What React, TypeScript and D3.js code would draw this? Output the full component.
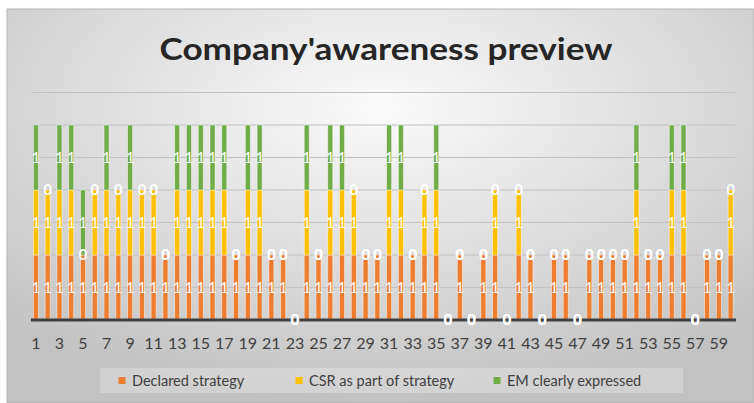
import React from "react";
import * as d3 from "d3";

const categories: string[] = Array.from({ length: 60 }, (_, i) => String(i + 1));
const declared: number[] = [1,1,1,1,1,1,1,1,1,1, 1,1,1,1,1,1,1,1,1,1, 1,1,0,1,1,1,1,1,1,1, 1,1,1,1,1,0,1,0,1,1, 0,1,1,0,1,1,0,1,1,1, 1,1,1,1,1,1,0,1,1,1];
const csr: number[] =      [1,1,1,1,0,1,1,1,1,1, 1,0,1,1,1,1,1,0,1,1, 0,0,0,1,0,1,1,1,0,0, 1,1,0,1,1,0,0,0,0,1, 0,1,0,0,0,0,0,0,0,0, 0,1,0,0,1,1,0,0,0,1];
const em: number[] =       [1,0,1,1,1,0,1,0,1,0, 0,0,1,1,1,1,1,0,1,1, 0,0,0,1,0,1,1,0,0,0, 1,1,0,0,1,0,0,0,0,0, 0,0,0,0,0,0,0,0,0,0, 0,1,0,0,1,1,0,0,0,0];
const seriesNames: string[] = ["Declared strategy", "CSR as part of strategy", "EM clearly expressed"];
const seriesColors: string[] = ["#ED7D31", "#FFC000", "#70AD47"];
const gridTicks: number[] = [0.5, 1, 1.5, 2, 2.5, 3, 3.5];
const title = "Company'awareness preview";

export default function App() {
  const W = 754, H = 403;
  const x = d3.scaleBand<string>().domain(categories).range([30, 736.5]).padding(0);
  const y = d3.scaleLinear().domain([0, 3.5]).range([320, 92.5]);
  const rows = categories.map((c, i) => ({ cat: c, s0: declared[i], s1: csr[i], s2: em[i] }));
  const stack = d3.stack<any>().keys(["s0", "s1", "s2"])(rows);
  const barW = 5;
  const font = "Lato, 'Open Sans', sans-serif";

  const legendItems = [
    { sq: 122, tx: 132 },
    { sq: 299, tx: 309 },
    { sq: 497, tx: 507 },
  ];

  return (
    <svg width={W} height={H} style={{ position: "absolute", left: 0, top: 0 }} fontFamily={font}>
      <defs>
        <radialGradient id="bg" cx="50%" cy="25%" r="75%">
          <stop offset="0" stopColor="#fbfbfb" />
          <stop offset="1" stopColor="#c2c2c2" />
        </radialGradient>
      </defs>
      <rect x={0} y={0} width={W} height={H} fill="#ffffff" />
      <rect x={7} y={9} width={W - 7} height={H - 9} fill="url(#bg)" stroke="#b5b5b5" strokeWidth={1} />
      <text x={386} y={60} textAnchor="middle" fontSize={31} fontWeight="bold" fill="#262626"
        textLength={453} lengthAdjust="spacingAndGlyphs">{title}</text>
      {gridTicks.map((t) => (
        <line key={t} x1={31} x2={735} y1={y(t)} y2={y(t)} stroke="#c2c2c2" strokeWidth={1} />
      ))}
      {stack.map((s, si) =>
        s.map((d, i) => {
          const v = d[1] - d[0];
          if (v <= 0) return null;
          const cx = (x(categories[i]) as number) + x.bandwidth() / 2;
          return (
            <rect key={`b${si}-${i}`} x={cx - barW / 2} y={y(d[1])} width={barW} height={y(d[0]) - y(d[1])}
              fill={seriesColors[si]} stroke="rgba(255,255,255,0.55)" strokeWidth={0.8} />
          );
        })
      )}
      <line x1={31} x2={736} y1={y(0)} y2={y(0)} stroke="#404040" strokeWidth={3} />
      {stack.map((s, si) =>
        s.map((d, i) => {
          const v = d[1] - d[0];
          const cx = (x(categories[i]) as number) + x.bandwidth() / 2;
          const cy = y((d[0] + d[1]) / 2);
          return (
            <text key={`l${si}-${i}`} x={cx} y={cy} dy="0.36em" textAnchor="middle" fontSize={14.5}
              fontWeight={v === 0 ? "bold" : "normal"} fill="#ffffff">{String(v)}</text>
          );
        })
      )}
      {categories.map((c, i) =>
        i % 2 === 0 ? (
          <text key={`x${c}`} x={(x(c) as number) + x.bandwidth() / 2} y={349} textAnchor="middle" fontSize={16} fill="#404040">{c}</text>
        ) : null
      )}
      <rect x={100} y={368} width={583} height={25} fill="#ffffff" fillOpacity={0.25} />
      {seriesNames.map((n, i) => (
        <g key={n}>
          <rect x={legendItems[i].sq - 3.5} y={377} width={7} height={7} fill={seriesColors[i]} />
          <text x={legendItems[i].tx} y={385.5} fontSize={14.5} fill="#404040">{n}</text>
        </g>
      ))}
    </svg>
  );
}
